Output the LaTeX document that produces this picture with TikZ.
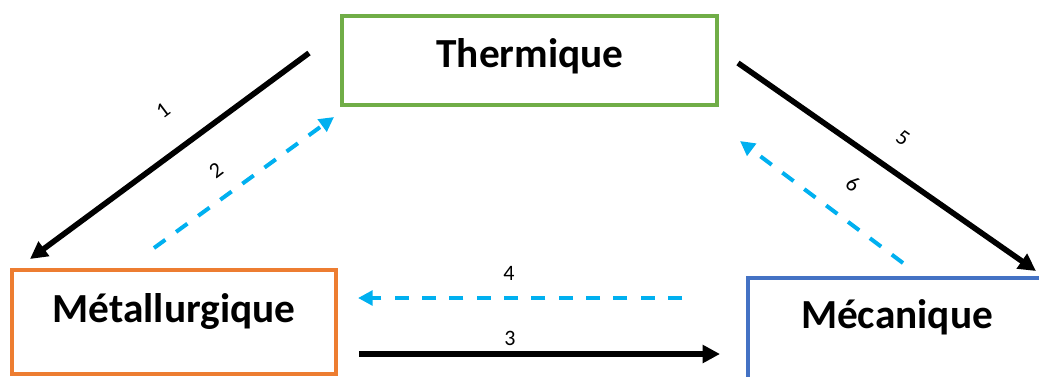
\documentclass[tikz,border=0pt]{standalone}
\usepackage{fontspec}
\setmainfont{Carlito}
\usetikzlibrary{arrows.meta}
\definecolor{tgreen}{HTML}{70AD47}
\definecolor{torange}{HTML}{ED7D31}
\definecolor{tblue}{HTML}{4472C4}
\definecolor{tcyan}{HTML}{00B0F0}
\tikzset{
  box/.style={draw, line width=3.4pt, minimum width=#1, inner sep=0pt},
  title/.style={anchor=base, font=\bfseries\fontsize{31}{36}\selectfont, inner sep=0pt},
  num/.style={font=\fontsize{16.5}{18}\selectfont, inner sep=0pt},
  solidarrow/.style={line width=4.2pt, -{Triangle[length=13pt,width=13pt]}},
  dasharrow/.style={tcyan, line width=3pt, dash pattern=on 10.5pt off 10pt, -{Triangle[length=11pt,width=11pt]}}
}
\begin{document}
\begin{tikzpicture}[x=0.75pt,y=-0.75pt]
\useasboundingbox (0,0) rectangle (1039,376);
\clip (0,0) rectangle (1039,376);
% boxes
\node[box=281.25pt, draw=tgreen, minimum height=66.75pt] (thb) at (529.5,60.5) {};
\node[box=243pt, draw=torange, minimum height=78pt] (meb) at (174,322) {};
\node[box=249pt, draw=tblue, minimum height=106.5pt] (mcb) at (914,349) {};
% texts
\node[title] (tht) at (530,67) {Thermique};
\node[title] (met) at (174,322) {Métallurgique};
\node[title] (mct) at (897,328) {Mécanique};
% endpoints
\coordinate (a1s) at (309,53);
\coordinate (a1e) at (30,259);
\coordinate (a2s) at (154,248);
\coordinate (a2e) at (334,117);
\coordinate (a5s) at (738,63);
\coordinate (a5e) at (1036,271);
\coordinate (a6s) at (903,263);
\coordinate (a6e) at (740,141);
\coordinate (a4s) at (682,298);
\coordinate (a4e) at (358,298);
\coordinate (a3s) at (359,354);
\coordinate (a3e) at (720,354);
% arrows
\draw[solidarrow] (a1s) -- (a1e);
\draw[dasharrow] (a2s) -- (a2e);
\draw[solidarrow] (a5s) -- (a5e);
\draw[dasharrow] (a6s) -- (a6e);
\draw[dasharrow] (a4s) -- (a4e);
\draw[solidarrow] (a3s) -- (a3e);
% labels
\node[num, rotate=37] (l1) at (163,110) {1};
\node[num, rotate=37] (l2) at (216,170) {2};
\node[num, rotate=-35] (l5) at (903,138) {5};
\node[num, rotate=-37] (l6) at (853,184) {6};
\node[num] (l4) at (509,273) {4};
\node[num] (l3) at (510,338) {3};
\end{tikzpicture}
\end{document}
